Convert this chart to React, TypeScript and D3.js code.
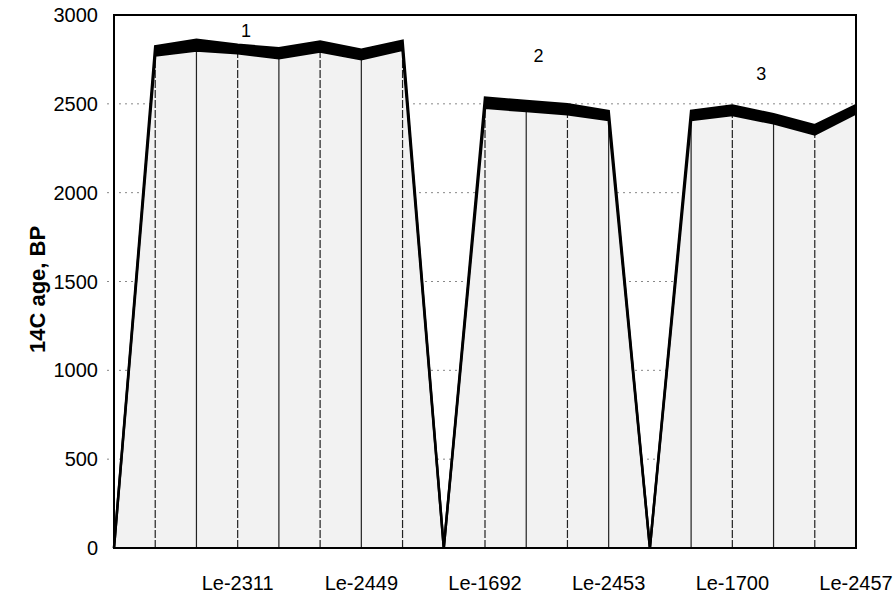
import { useEffect, useRef } from 'react';
import * as d3 from 'd3';

// 19 sample positions along the section; only every third is labelled
const tickLabels = ['', '', '', 'Le-2311', '', '', 'Le-2449', '', '', 'Le-1692', '', '', 'Le-2453', '', '', 'Le-1700', '', '', 'Le-2457'];
// 14C age band: lower and upper edge (years BP)
const lowerAge = [0, 2772, 2800, 2785, 2757, 2795, 2751, 2804, 0, 2478, 2459, 2441, 2409, 0, 2409, 2437, 2390, 2328, 2446];
const upperAge = [0, 2823, 2860, 2832, 2813, 2851, 2804, 2855, 0, 2535, 2516, 2497, 2459, 0, 2461, 2490, 2441, 2380, 2493];
const yTicks = [0, 500, 1000, 1500, 2000, 2500, 3000];
const groupNames = ['1', '2', '3'];
const groupAt = [3.2, 10.3, 15.7];
const groupAge = [2910, 2770, 2670];

const W = 896;
const H = 596;

export default function App() {
  const svgRef = useRef<SVGSVGElement>(null);

  useEffect(() => {
    if (!svgRef.current) return;
    const svg = d3.select(svgRef.current);
    svg.selectAll('*').remove();

    const left = 114;
    const right = 856;
    const top = 15;
    const bottom = 548;
    const font = '"Liberation Sans", Arial, sans-serif';

    const idx = d3.range(tickLabels.length);
    const x = d3.scaleLinear().domain([0, idx.length - 1]).range([left, right]);
    const y = d3.scaleLinear().domain([0, 3000]).range([bottom, top]);

    // horizontal gridlines (dotted, partly hidden by the area)
    svg.append('g')
      .selectAll('line')
      .data(yTicks.filter((t) => t > 0 && t < 3000))
      .enter()
      .append('line')
      .attr('x1', left - 7)
      .attr('x2', right)
      .attr('y1', (d) => y(d))
      .attr('y2', (d) => y(d))
      .attr('stroke', '#888')
      .attr('stroke-width', 1)
      .attr('stroke-dasharray', '2,4');

    const lowerArea = d3.area<number>()
      .x((i) => x(i))
      .y0(y(0))
      .y1((i) => y(lowerAge[i]));

    svg.append('path')
      .datum(idx)
      .attr('d', lowerArea)
      .attr('fill', '#f2f2f2');

    // vertical drop lines at each sample
    svg.append('g')
      .selectAll('line')
      .data(idx.filter((i) => lowerAge[i] > 0 && i < idx.length - 1))
      .enter()
      .append('line')
      .attr('x1', (i) => x(i))
      .attr('x2', (i) => x(i))
      .attr('y1', y(0))
      .attr('y2', (i) => y(lowerAge[i]))
      .attr('stroke', '#222')
      .attr('stroke-width', 1.2)
      .attr('stroke-dasharray', (i) => (i % 2 === 1 ? '8,2' : null));

    const band = d3.area<number>()
      .x((i) => x(i))
      .y0((i) => y(lowerAge[i]))
      .y1((i) => y(upperAge[i]));

    svg.append('path')
      .datum(idx)
      .attr('d', band)
      .attr('fill', '#000');

    const line = (vals: number[]) => d3.line<number>().x((i) => x(i)).y((i) => y(vals[i]));

    [lowerAge, upperAge].forEach((vals) => {
      svg.append('path')
        .datum(idx)
        .attr('d', line(vals))
        .attr('fill', 'none')
        .attr('stroke', '#000')
        .attr('stroke-width', 2.5)
        .attr('stroke-linejoin', 'miter');
    });

    // plot frame
    svg.append('rect')
      .attr('x', left)
      .attr('y', top)
      .attr('width', right - left)
      .attr('height', bottom - top)
      .attr('fill', 'none')
      .attr('stroke', '#000')
      .attr('stroke-width', 2);

    // y tick labels
    svg.append('g')
      .selectAll('text')
      .data(yTicks)
      .enter()
      .append('text')
      .attr('x', 98)
      .attr('y', (d) => y(d))
      .attr('dy', '0.35em')
      .attr('text-anchor', 'end')
      .style('font-family', font)
      .style('font-size', '20px')
      .text((d) => d);

    // x labels
    svg.append('g')
      .selectAll('text')
      .data(idx.filter((i) => tickLabels[i] !== ''))
      .enter()
      .append('text')
      .attr('x', (i) => x(i))
      .attr('y', 590)
      .attr('text-anchor', 'middle')
      .style('font-family', font)
      .style('font-size', '20px')
      .text((i) => tickLabels[i]);

    // group numbers
    svg.append('g')
      .selectAll('text')
      .data(groupNames)
      .enter()
      .append('text')
      .attr('x', (_, k) => x(groupAt[k]))
      .attr('y', (_, k) => y(groupAge[k]))
      .attr('dy', '0.35em')
      .attr('text-anchor', 'middle')
      .style('font-family', font)
      .style('font-size', '18px')
      .text((d) => d);

    svg.append('text')
      .attr('transform', `translate(45,${(top + bottom) / 2 + 8}) rotate(-90)`)
      .attr('text-anchor', 'middle')
      .style('font-family', font)
      .style('font-size', '22px')
      .style('font-weight', 'bold')
      .text('14C age, BP');
  }, []);

  return (
    <svg
      ref={svgRef}
      width={W}
      height={H}
      style={{ position: 'absolute', left: 0, top: 0, background: '#fff' }}
    />
  );
}
